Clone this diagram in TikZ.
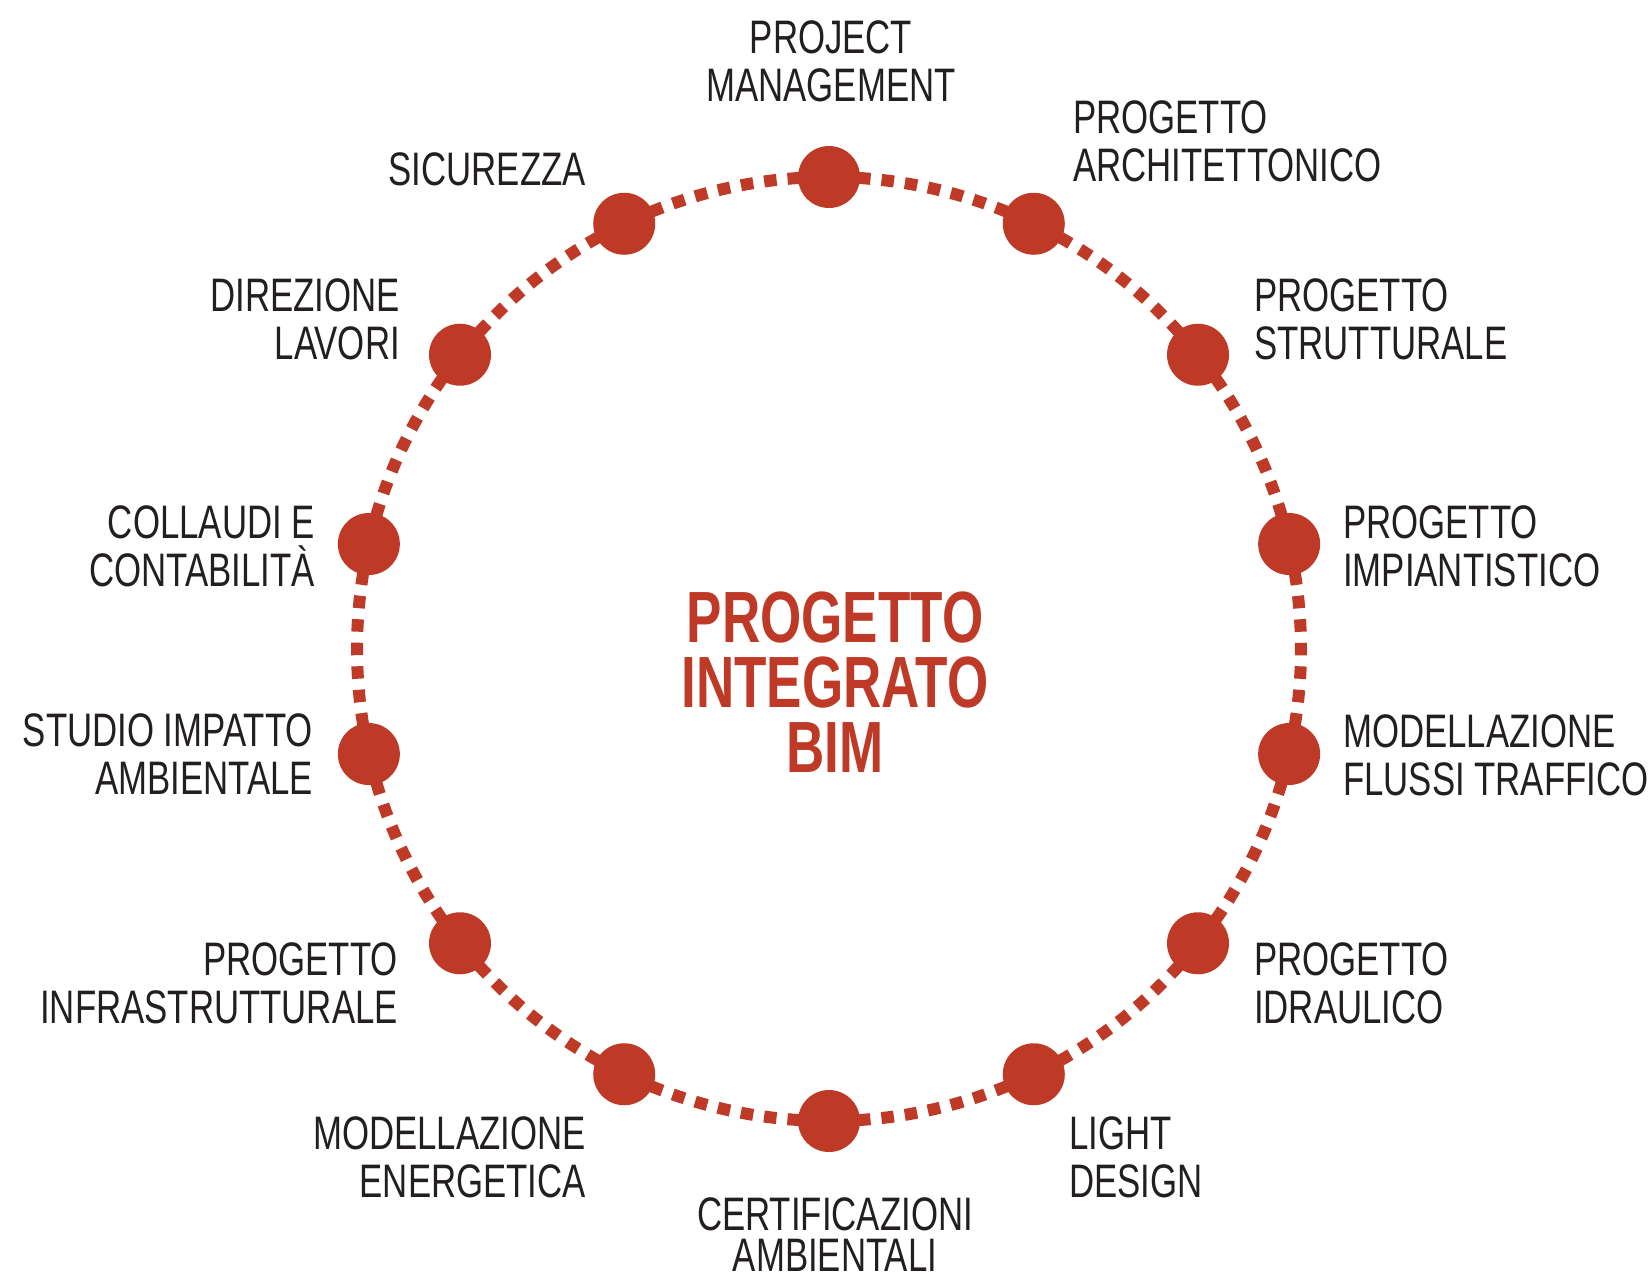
\documentclass[tikz,border=0pt]{standalone}
\usepackage{fontspec}
\setmainfont{Liberation Sans}[FakeStretch=0.74]
\newfontfamily\centerfont{Liberation Sans}[FakeStretch=0.73]
\usetikzlibrary{backgrounds}
\definecolor{bimred}{RGB}{191,58,38}
\definecolor{txt}{RGB}{35,31,32}
\tikzset{
  dot/.style={circle,fill=bimred,draw=none,minimum size=62pt,inner sep=0pt},
  ring/.style={draw=bimred,line width=12pt,dash pattern=on 12.5pt off 11.04pt,dash phase=18pt},
  lbl/.style={inner sep=0pt,text=txt,font=\fontsize{47}{48}\selectfont},
  lleft/.style={lbl,anchor=north west,align=left},
  lright/.style={lbl,anchor=north east,align=right},
  lmid/.style={lbl,anchor=north,align=center},
  title/.style={inner sep=0pt,anchor=north,align=center,text=bimred,
    font=\centerfont\bfseries\fontsize{72.6}{65}\selectfont}
}
\begin{document}
\begin{tikzpicture}[x=1pt,y=1pt]
\useasboundingbox (0,0) rectangle (1652,-1283);
\coordinate (O) at (829,-649);
\foreach \i in {0,...,13}{
  \path (O) ++({90-\i*360/14}:472) node[dot] (d\i) {};
}
\begin{scope}[on background layer]
\fill[white] (0,0) rectangle (1652,-1283);
\foreach \i in {0,...,13}{
  \draw[ring] (d\i.center) arc[start angle={90-\i*360/14}, delta angle={-360/14}, radius=472];
}
\end{scope}
% labels
\node[lmid]   (lPM)  at (831,-20)   {PROJECT\\MANAGEMENT};
\node[lleft]  (lARC) at (1073,-100) {PROGETTO\\ARCHITETTONICO};
\node[lleft]  (lSTR) at (1254,-278) {PROGETTO\\STRUTTURALE};
\node[lleft]  (lIMP) at (1343,-505) {PROGETTO\\IMPIANTISTICO};
\node[lleft]  (lFLU) at (1343,-714) {MODELLAZIONE\\FLUSSI TRAFFICO};
\node[lleft]  (lIDR) at (1254,-942) {PROGETTO\\IDRAULICO};
\node[lleft]  (lLIG) at (1069,-1116) {LIGHT\\DESIGN};
\node[lmid,font=\fontsize{47}{41}\selectfont] (lCER) at (835,-1197) {CERTIFICAZIONI\\AMBIENTALI};
\node[lright] (lENE) at (586,-1116) {MODELLAZIONE\\ENERGETICA};
\node[lright] (lINF) at (398,-942)  {PROGETTO\\INFRASTRUTTURALE};
\node[lright] (lSTU) at (313,-713)  {STUDIO IMPATTO\\AMBIENTALE};
\node[lright] (lCOL) at (315,-505)  {COLLAUDI E\\CONTABILITÀ};
\node[lright] (lDIR) at (400,-278)  {DIREZIONE\\LAVORI};
\node[lright] (lSIC) at (586,-152)  {SICUREZZA};
% centre title
\node[title] (ttl) at (835,-592) {PROGETTO\\INTEGRATO\\BIM};
\end{tikzpicture}
\end{document}
